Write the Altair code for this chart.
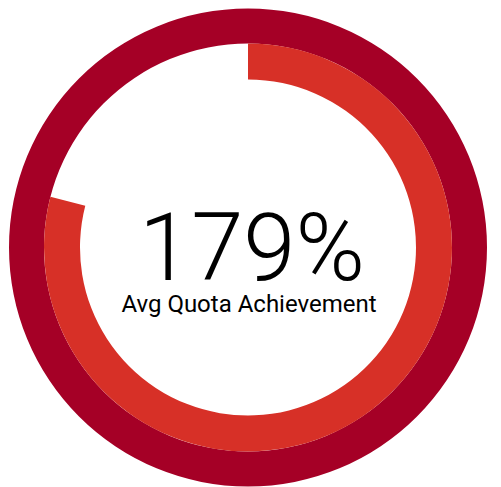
import altair as alt
import pandas as pd

# Data
ring_names = ["Target", "Achievement"]
ring_start = [0.0, 0.0]
ring_end = [1.0, 0.79]          # inner arc shows the part above 100% (179% -> 79%)
ring_colors = ["#a50026", "#d73027"]
big_label = ["179%"]
sub_label = ["Avg Quota Achievement"]

W, H = 480, 479
cx, cy = W / 2, H / 2

df = pd.DataFrame({"ring": ring_names, "start": ring_start, "end": ring_end})

theta_scale = alt.Scale(domain=[0, 1], range=[0, 6.283185307179586])

outer = alt.Chart(df[df.ring == "Target"]).mark_arc(
    radius=239, radius2=204, color=ring_colors[0]
).encode(
    theta=alt.Theta("start:Q", scale=theta_scale),
    theta2="end:Q",
)

inner = alt.Chart(df[df.ring == "Achievement"]).mark_arc(
    radius=204, radius2=168, color=ring_colors[1]
).encode(
    theta=alt.Theta("start:Q", scale=theta_scale),
    theta2="end:Q",
)

big = alt.Chart(pd.DataFrame({"t": big_label})).mark_text(
    font="Roboto", fontWeight=300, fontSize=94, color="#000000",
    align="center", baseline="alphabetic"
).encode(text="t:N", x=alt.value(cx + 4), y=alt.value(cy + 32))

sub = alt.Chart(pd.DataFrame({"t": sub_label})).mark_text(
    font="Roboto", fontWeight=400, fontSize=24, color="#000000",
    align="center", baseline="alphabetic"
).encode(text="t:N", x=alt.value(cx + 1), y=alt.value(cy + 64))

chart = alt.layer(outer, inner, big, sub).properties(
    width=W, height=H, padding=0,
    autosize=alt.AutoSizeParams(type="none"),
).configure_view(stroke=None)

chart.save("out.html", embed_options={"renderer": "svg", "actions": False})
